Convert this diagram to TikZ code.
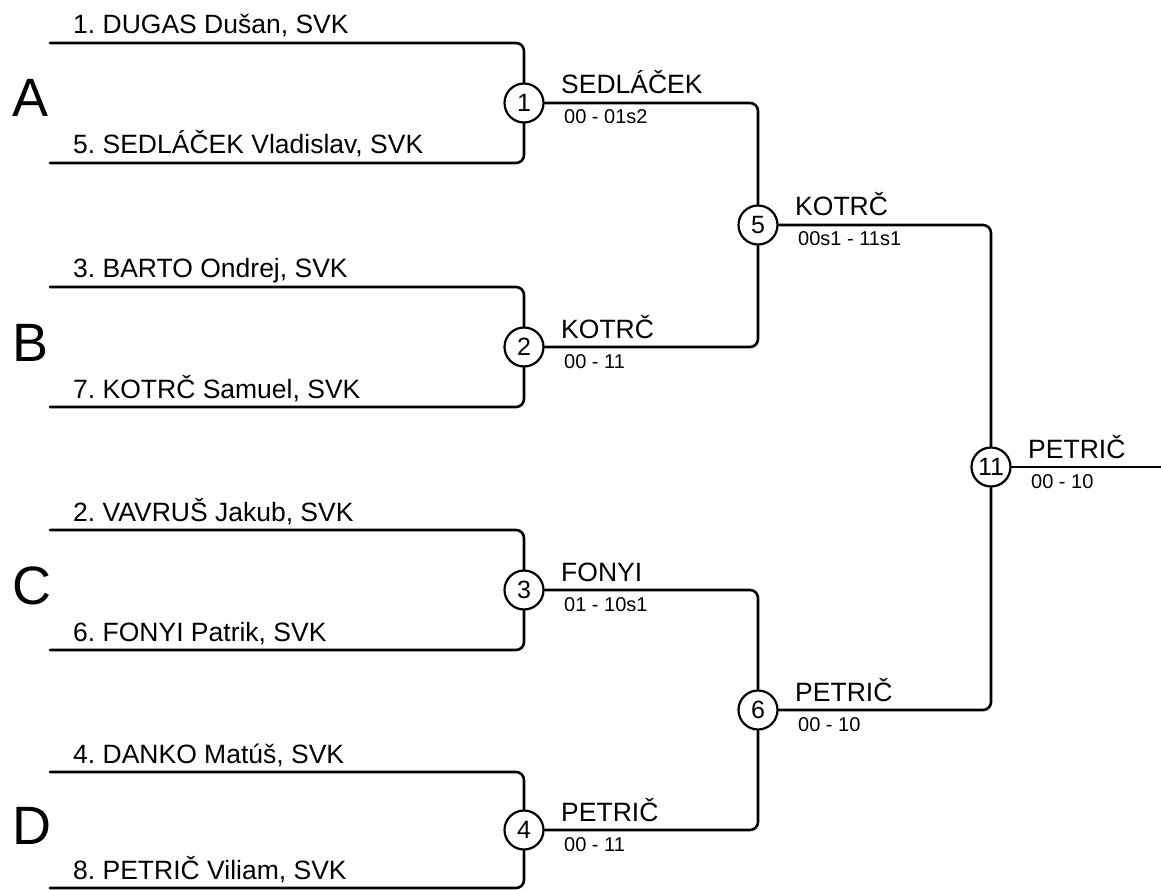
\documentclass[tikz,border=0pt]{standalone}
\usepackage{fontspec}
\setmainfont{Liberation Sans}
\frenchspacing
\tikzset{
  every picture/.style={line join=round, line cap=round},
  bline/.style={line width=2.6pt, rounded corners=8pt},
  match/.style={draw, circle, fill=white, line width=2.2pt, minimum size=39pt, inner sep=0pt, font=\fontsize{25}{25}\selectfont},
  player/.style={anchor=base west, inner sep=0pt, font=\fontsize{26.5}{30}\selectfont},
  winner/.style={anchor=base west, inner sep=0pt, font=\fontsize{26.5}{30}\selectfont},
  score/.style={anchor=base west, inner sep=0pt, font=\fontsize{20}{22}\selectfont},
  group/.style={anchor=base west, inner sep=0pt, font=\fontsize{54}{54}\selectfont},
}

\begin{document}
\begin{tikzpicture}[x=1pt,y=-1pt]
\useasboundingbox (0,0) rectangle (1161,890);
% match circles
\node[match] (m1) at (524,103) {1};
\node[match] (m2) at (524,347) {2};
\node[match] (m3) at (524,590) {3};
\node[match] (m4) at (524,830) {4};
\node[match] (m5) at (758,225) {5};
\node[match] (m6) at (758,710) {6};
\node[match] (m11) at (991,467) {11};
\coordinate (fin) at (1161,467);
% groups
\foreach \g/\y in {A/117,B/361,C/604,D/844}{\node[group] (g\g) at (12,\y) {\g};}
% players
\foreach \n/\y/\t/\m in {p1/43/{1. DUGAS Dušan, SVK}/1, p5/163/{5. SEDLÁČEK Vladislav, SVK}/1,
  p3/287/{3. BARTO Ondrej, SVK}/2, p7/407/{7. KOTRČ Samuel, SVK}/2,
  p2/530/{2. VAVRUŠ Jakub, SVK}/3, p6/650/{6. FONYI Patrik, SVK}/3,
  p4/772/{4. DANKO Matúš, SVK}/4, p8/888/{8. PETRIČ Viliam, SVK}/4}{
  \coordinate (\n) at (50,\y);
  \node[player] (\n t) at (73,{\y-9}) {\t};
  \draw[bline] (\n) -| (m\m);
}
% rounds
\draw[bline] (m1) -| (m5); \draw[bline] (m2) -| (m5);
\draw[bline] (m3) -| (m6); \draw[bline] (m4) -| (m6);
\draw[bline] (m5) -| (m11); \draw[bline] (m6) -| (m11);
\draw[bline] (m11) -- (fin);
% winners and scores
\foreach \m/\w/\s in {1/SEDLÁČEK/00 - 01s2, 2/KOTRČ/00 - 11, 3/FONYI/01 - 10s1, 4/PETRIČ/00 - 11,
  5/KOTRČ/00s1 - 11s1, 6/PETRIČ/00 - 10, 11/PETRIČ/00 - 10}{
  \node[winner] (w\m) at ([xshift=37pt,yshift=9pt]m\m.center) {\w};
  \node[score] (s\m) at ([xshift=40pt,yshift=-21pt]m\m.center) {\s};
}
\end{tikzpicture}
\end{document}
